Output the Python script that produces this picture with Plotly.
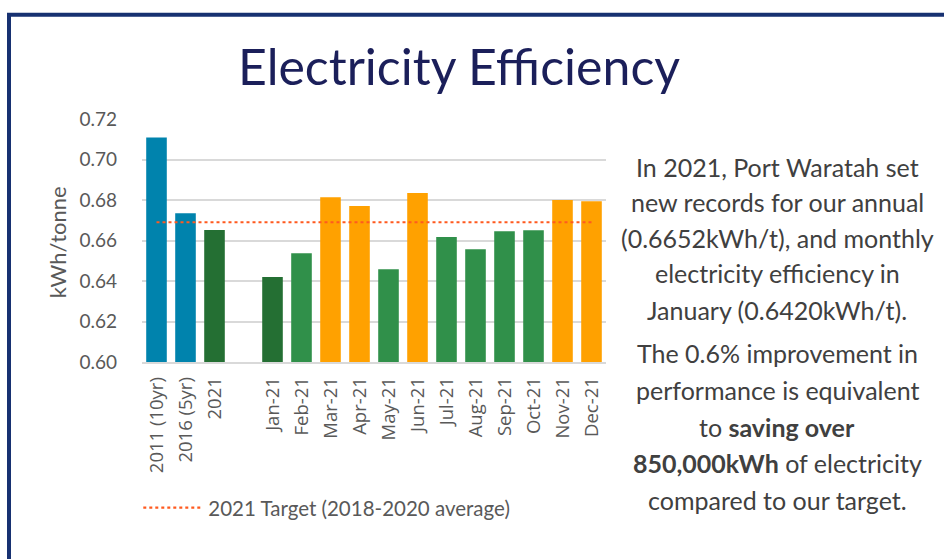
import plotly.graph_objects as go

# ---- data ----
categories = ["2011 (10yr)", "2016 (5yr)", "2021", " ",
              "Jan-21", "Feb-21", "Mar-21", "Apr-21", "May-21", "Jun-21",
              "Jul-21", "Aug-21", "Sep-21", "Oct-21", "Nov-21", "Dec-21"]
values = [0.7109, 0.6734, 0.6652, None,
          0.6420, 0.6537, 0.6814, 0.6770, 0.6458, 0.6834,
          0.6617, 0.6557, 0.6646, 0.6651, 0.6800, 0.6794]
target_value = 0.6690
target_name = "2021 Target (2018-2020 average)"
y_ticks = [0.60, 0.62, 0.64, 0.66, 0.68, 0.70, 0.72]

# ---- styles ----
BLUE = "#0083AD"
DKGREEN = "#246F33"
GREEN = "#30904A"
ORANGE = "#FFA100"
bar_colors = [BLUE, BLUE, DKGREEN, GREEN,
              DKGREEN, GREEN, ORANGE, ORANGE, GREEN, ORANGE,
              GREEN, GREEN, GREEN, GREEN, ORANGE, ORANGE]
GREY = "#595959"
FONT = "Lato"

fig = go.Figure()
fig.add_trace(go.Bar(x=categories, y=values, marker=dict(color=bar_colors, line=dict(width=0)),
                     width=0.71, showlegend=False, hoverinfo="x+y"))
fig.add_trace(go.Scatter(x=[categories[0], categories[-1]], y=[target_value, target_value],
                         mode="lines", name=target_name,
                         line=dict(color="#FF5A1F", width=2.2, dash="dot")))

fig.update_layout(
    width=944, height=559, autosize=False,
    margin=dict(l=142, r=338, t=119, b=197),
    paper_bgcolor="white", plot_bgcolor="white",
    font=dict(family=FONT, color=GREY, size=18),
    showlegend=True,
    legend=dict(x=-0.008, y=-0.6, xanchor="left", yanchor="middle",
                orientation="h", itemwidth=60,
                font=dict(size=20.5, color=GREY, family=FONT),
                bgcolor="rgba(0,0,0,0)"),
    bargap=0.29,
)
fig.update_yaxes(range=[0.60, 0.72], tickvals=y_ticks, tickformat=".2f",
                 showgrid=True, gridcolor="#D9D9D9", gridwidth=1.5,
                 zeroline=False, showline=False, ticks="",
                 ticklabelstandoff=24,
                 tickfont=dict(size=19, color=GREY, family=FONT))
fig.update_xaxes(type="category", showgrid=False, showline=True, linecolor="#D9D9D9",
                 linewidth=1.5, ticks="", tickangle=-90, ticklabelstandoff=6,
                 tickfont=dict(size=18.5, color=GREY, family="Open Sans"))

# border
fig.add_shape(type="rect", xref="paper", yref="paper", layer="above",
              x0=-133 / 464, x1=(960 - 142) / 464,
              y0=(361.7 - 575) / 242.7, y1=(361.7 - 15) / 242.7,
              line=dict(color="#173171", width=4), fillcolor="rgba(0,0,0,0)")

anns = []
# title
anns.append(dict(text="Electricity Efficiency", xref="paper", yref="paper",
                 x=(459 - 142) / 464, y=(361.7 - 66) / 242.7, xanchor="center", yanchor="middle",
                 showarrow=False, font=dict(family=FONT, size=50, color="#1B1F5A")))
# y-axis title
anns.append(dict(text="kWh/tonne", xref="paper", yref="paper", textangle=-90,
                 x=(57 - 142) / 464, y=(361.7 - 242) / 242.7, xanchor="center", yanchor="middle",
                 showarrow=False, font=dict(family=FONT, size=22, color=GREY)))

side_lines = [
    ("In 2021, Port Waratah set", 167),
    ("new records for our annual", 202),
    ("(0.6652kWh/t), and monthly", 238),
    ("electricity efficiency in", 273),
    ("January (0.6420kWh/t).", 310),
    ("The 0.6% improvement in", 353),
    ("performance is equivalent", 390),
    ("to <b>saving over</b>", 427),
    ("<b>850,000kWh</b> of electricity", 463),
    ("compared to our target.", 500),
]
for txt, ypx in side_lines:
    anns.append(dict(text=txt, xref="paper", yref="paper",
                     x=(777 - 142) / 464, y=(361.7 - ypx) / 242.7,
                     xanchor="center", yanchor="middle", showarrow=False,
                     font=dict(family=FONT, size=25, color="#404040")))
fig.update_layout(annotations=anns)

fig.write_html("out.html", config={"displayModeBar": False},
               post_script="document.body.style.margin='0';")
